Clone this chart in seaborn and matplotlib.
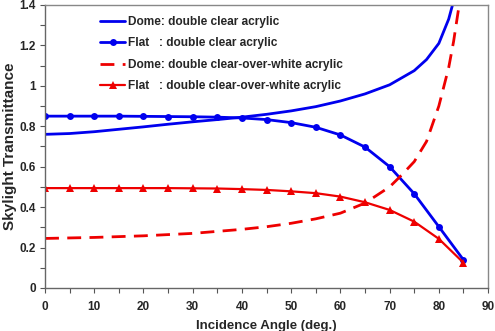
import numpy as np
import pandas as pd
import matplotlib
matplotlib.use('Agg')
import matplotlib.pyplot as plt
import seaborn as sns
from matplotlib.ticker import MultipleLocator

# --- data ---
flat_angle = [0, 5, 10, 15, 20, 25, 30, 35, 40, 45, 50, 55, 60, 65, 70, 75, 80, 85]
flat_clear = [0.85, 0.85, 0.85, 0.85, 0.849, 0.848, 0.847, 0.845, 0.841, 0.833, 0.818,
              0.795, 0.757, 0.697, 0.60, 0.466, 0.303, 0.139]
flat_white = [0.494, 0.494, 0.494, 0.494, 0.494, 0.494, 0.493, 0.492, 0.489, 0.485, 0.478,
              0.469, 0.452, 0.424, 0.386, 0.328, 0.243, 0.125]

dome_clear_angle = [0, 5, 10, 15, 20, 25, 30, 35, 40, 45, 50, 55, 60, 65, 70, 75, 77.5, 80, 82, 83]
dome_clear = [0.76, 0.764, 0.773, 0.785, 0.797, 0.81, 0.822, 0.833, 0.845, 0.859, 0.876,
              0.897, 0.925, 0.96, 1.005, 1.075, 1.13, 1.21, 1.33, 1.42]

dome_white_angle = [0, 10, 20, 30, 40, 45, 50, 55, 60, 65, 70, 72.5, 75, 77.5, 80, 82, 83, 84, 84.5]
dome_white = [0.245, 0.25, 0.258, 0.27, 0.29, 0.303, 0.32, 0.342, 0.37, 0.42, 0.50, 0.56,
              0.625, 0.725, 0.90, 1.09, 1.22, 1.38, 1.46]

labels = ['Dome: double clear acrylic',
          'Flat   : double clear acrylic',
          'Dome: double clear-over-white acrylic',
          'Flat   : double clear-over-white acrylic']

sns.set_style('white')
plt.rcParams['font.family'] = ['Liberation Sans', 'DejaVu Sans']
plt.rcParams['font.weight'] = 'bold'

fig = plt.figure(figsize=(4.95, 3.31), dpi=100)
ax = fig.add_axes([0.091, 0.13, 0.895, 0.855])

sns.lineplot(x=dome_clear_angle, y=dome_clear, ax=ax, color='#0000ee', lw=2,
             label=labels[0])
sns.lineplot(x=flat_angle, y=flat_clear, ax=ax, color='#0000ee', lw=2,
             marker='o', markersize=5, markeredgewidth=0, label=labels[1])
sns.lineplot(x=dome_white_angle, y=dome_white, ax=ax, color='#ee0000', lw=2,
             label=labels[2])
sns.lineplot(x=flat_angle, y=flat_white, ax=ax, color='#ee0000', lw=1.6,
             marker='^', markersize=5.5, markeredgewidth=0, label=labels[3])
ax.lines[2].set_dashes((5, 3))

ax.set_xlim(0, 90)
ax.set_ylim(0, 1.4)
ax.xaxis.set_major_locator(MultipleLocator(10))
ax.xaxis.set_minor_locator(MultipleLocator(5))
ax.yaxis.set_minor_locator(MultipleLocator(0.1))
ax.set_yticks(np.arange(0, 1.41, 0.2))
ax.set_yticklabels(['0', '0.2', '0.4', '0.6', '0.8', '1', '1.2', '1.4'])
ax.tick_params(which='both', direction='out', length=3.5, width=0.8, color='#555555',
               bottom=True, left=True, labelsize=8.5)
ax.tick_params(axis='x', pad=6)
ax.tick_params(axis='y', pad=3)
for lab in ax.get_xticklabels() + ax.get_yticklabels():
    lab.set_fontweight('bold')
for s in ax.spines.values():
    s.set_color('#888888')
    s.set_linewidth(1)
ax.spines['left'].set_color('#666666')
ax.spines['bottom'].set_color('#666666')

ax.set_xlabel('Incidence Angle (deg.)', fontsize=9.5, fontweight='bold', labelpad=5)
ax.set_ylabel('Skylight Transmittance', fontsize=11, fontweight='bold')
ax.yaxis.set_label_coords(-0.063, 0.5)

leg = ax.legend(loc='upper left', bbox_to_anchor=(0.124, 0.962), frameon=False,
                borderaxespad=0, borderpad=0,
                fontsize=8.6, handlelength=2.1, handletextpad=0.25, labelspacing=0.8)
for t in leg.get_texts():
    t.set_fontweight('bold')

fig.savefig('out.png', dpi=100)
